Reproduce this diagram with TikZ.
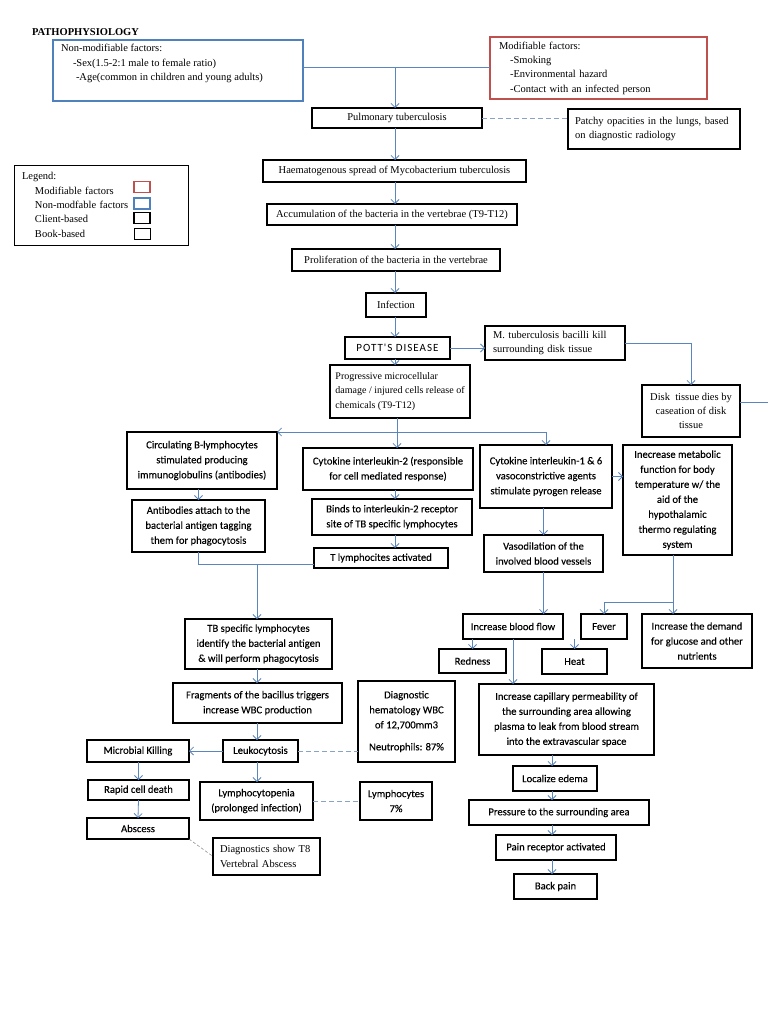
\documentclass[tikz,border=0pt]{standalone}
\usepackage{fontspec}
\setmainfont{Liberation Serif}
\newfontfamily\calfont[FakeBold=0.15]{Carlito}
\newfontfamily\pottsfont[LetterSpace=9]{Carlito}
\usetikzlibrary{arrows.meta}
\definecolor{arrblue}{HTML}{5B86BD}
\definecolor{boxblue}{HTML}{4F81BD}
\definecolor{boxred}{HTML}{C0504D}
\definecolor{dashcol}{HTML}{8AA3C2}
\begin{document}
\begin{tikzpicture}[x=1pt,y=-1pt,
 every node/.style={inner sep=1pt, outer sep=0pt},
 sbox/.style={draw=black, line width=1.3pt, font=\fontsize{10.5}{14.5}\selectfont, align=center},
 cbox/.style={draw=black, line width=1.3pt, font=\calfont\fontsize{10.6}{15}\selectfont, align=center},
 bbox/.style={draw=boxblue, line width=1.1pt, font=\fontsize{10.5}{14.5}\selectfont},
 rbox/.style={draw=boxred, line width=1.1pt, font=\fontsize{10.5}{14.3}\selectfont},
 arr/.style={draw=arrblue, line width=0.8pt, -{Straight Barb[length=4pt,width=8pt]}},
 lin/.style={draw=arrblue, line width=0.8pt},
 dsh/.style={draw=dashcol, line width=0.8pt, dash pattern=on 5pt off 3pt},
]
\useasboundingbox[fill=white] (0,0) rectangle (768,1024);

% title and legend
\node[anchor=west, inner sep=0pt, font=\bfseries\fontsize{10.5}{12}\selectfont] (title) at (32,32) {PATHOPHYSIOLOGY};
\node[draw=black, line width=0.9pt, minimum width=174pt, minimum height=80pt, text width=158pt, inner xsep=8pt, align=left, font=\fontsize{10.5}{14.3}\selectfont] (legend) at (101,205) {Legend:\\\hspace*{13pt}Modifiable factors\\\hspace*{13pt}Non-modfable factors\\\hspace*{13pt}Client-based\\\hspace*{13pt}Book-based};
\node[draw=boxred, line width=1.2pt, minimum width=16pt, minimum height=11pt] (lgmod) at (142,187) {};
\node[draw=boxblue, line width=1.2pt, minimum width=16pt, minimum height=11pt] (lgnon) at (142,203.5) {};
\node[draw=black, line width=1.5pt, minimum width=16pt, minimum height=11pt] (lgcli) at (142,218) {};
\node[draw=black, line width=0.6pt, minimum width=16pt, minimum height=11pt] (lgbook) at (142,234) {};

% factors
\node[bbox, minimum width=250pt, minimum height=61pt, inner sep=0pt] (nonmod) at (178,70.5) {\parbox[c][52pt][t]{234pt}{Non-modifiable factors:\\\hspace*{12pt}-Sex(1.5-2:1 male to female ratio)\\\hspace*{15pt}-Age(common in children and young adults)}};
\node[rbox, minimum width=217pt, minimum height=62pt, text width=199pt, inner xsep=9pt, align=left] (mod) at (598.5,68) {Modifiable factors:\\\hspace*{11pt}-Smoking\\\hspace*{11pt}-Environmental hazard\\\hspace*{11pt}-Contact with an infected person};

% main chain
\node[sbox, minimum width=170pt, minimum height=20pt] (pulm) at (397,118) {Pulmonary tuberculosis};
\node[sbox, minimum width=172pt, minimum height=40pt, text width=158pt, inner xsep=7pt, align=left] (patchy) at (654,129) {Patchy opacities in the lungs, based\\on diagnostic radiology};
\node[sbox, minimum width=263pt, minimum height=22pt] (haem) at (394.5,171) {Haematogenous spread of Mycobacterium tuberculosis};
\node[sbox, minimum width=250pt, minimum height=21pt] (accum) at (392,214.5) {Accumulation of the bacteria in the vertebrae (T9-T12)};
\node[sbox, minimum width=208pt, minimum height=22pt] (prolif) at (396,260) {Proliferation of the bacteria in the vertebrae};
\node[sbox, minimum width=60pt, minimum height=24pt] (infect) at (396,305) {Infection};
\node[sbox, minimum width=105pt, minimum height=22pt, font=\pottsfont\fontsize{11}{12}\selectfont] (potts) at (397.5,348) {POTT'S DISEASE};
\node[sbox, minimum width=140pt, minimum height=34pt, text width=124pt, inner xsep=8pt, align=left] (mtub) at (555,343) {M. tuberculosis bacilli kill\\surrounding disk tissue};
\node[sbox, minimum width=98pt, minimum height=52pt, font=\fontsize{10.5}{14}\selectfont] (disk) at (691,411) {Disk\ \ tissue dies by\\caseation of disk\\tissue};
\node[sbox, minimum width=140pt, minimum height=53pt, align=left, font=\fontsize{10}{14.5}\selectfont] (prog) at (400,391.5) {Progressive microcellular\\damage / injured cells release of\\chemicals (T9-T12)};

% immune branch
\node[cbox, minimum width=150pt, minimum height=57pt] (blymph) at (202,460.5) {Circulating B-lymphocytes\\stimulated producing\\immunoglobulins (antibodies)};
\node[cbox, minimum width=170pt, minimum height=42pt] (il2) at (388,469) {Cytokine interleukin-2 (responsible\\for cell mediated response)};
\node[cbox, minimum width=132pt, minimum height=63pt] (il16) at (546,476.5) {Cytokine interleukin-1 \& 6\\vasoconstrictive agents\\stimulate pyrogen release};
\node[cbox, minimum width=109pt, minimum height=110pt] (metab) at (677.5,500) {Inecrease metabolic\\function for body\\temperature w/ the\\aid of the\\hypothalamic\\thermo regulating\\system};
\node[cbox, minimum width=133pt, minimum height=52pt] (antib) at (198.5,526) {Antibodies attach to the\\bacterial antigen tagging\\them for phagocytosis};
\node[cbox, minimum width=160pt, minimum height=36pt] (binds) at (392,517) {Binds to interleukin-2 receptor\\site of TB specific lymphocytes};
\node[cbox, minimum width=134pt, minimum height=20pt] (tlymph) at (381,558) {T lymphocites activated};
\node[cbox, minimum width=119pt, minimum height=37pt] (vaso) at (543.5,553.5) {Vasodilation of the\\involved blood vessels};
\node[cbox, minimum width=147pt, minimum height=50pt] (tb) at (258.5,644) {TB specific lymphocytes\\identify the bacterial antigen\\\& will perform phagocytosis};
\node[cbox, minimum width=169pt, minimum height=40pt] (frag) at (257.5,703) {Fragments of the bacillus triggers\\increase WBC production};
\node[cbox, minimum width=97pt, minimum height=81pt] (hemat) at (406.5,721.5) {Diagnostic\\hematology WBC\\of 12,700mm3\\[7pt]Neutrophils: 87\%};
\node[cbox, minimum width=100pt, minimum height=25pt] (blood) at (513,626.5) {Increase blood flow};
\node[cbox, minimum width=46pt, minimum height=25pt] (fever) at (604,626.5) {Fever};
\node[cbox, minimum width=110pt, minimum height=54pt] (demand) at (697,641) {Increase the demand\\for glucose and other\\nutrients};
\node[cbox, minimum width=67pt, minimum height=24pt] (redness) at (472.5,661) {Redness};
\node[cbox, minimum width=65pt, minimum height=25pt] (heat) at (574.5,661.5) {Heat};
\node[cbox, minimum width=175pt, minimum height=71pt] (capill) at (566.5,719.5) {Increase capillary permeability of\\the surrounding area allowing\\plasma to leak from blood stream\\into the extravascular space};
\node[cbox, minimum width=75pt, minimum height=22pt] (leuko) at (260.5,751) {Leukocytosis};
\node[cbox, minimum width=102pt, minimum height=22pt] (microb) at (138,751) {Microbial Killing};
\node[cbox, minimum width=101pt, minimum height=20pt] (rapid) at (138.5,790) {Rapid cell death};
\node[cbox, minimum width=102pt, minimum height=21pt] (abscess) at (138,828.5) {Abscess};
\node[cbox, minimum width=113pt, minimum height=38pt] (lympho) at (256.5,801) {Lymphocytopenia\\(prolonged infection)};
\node[cbox, minimum width=72pt, minimum height=38pt] (lymph7) at (396,801) {Lymphocytes\\7\%};
\node[sbox, minimum width=107pt, minimum height=37pt, text width=93pt, inner xsep=7pt, align=left] (diagt8) at (266.5,856.5) {Diagnostics show T8\\Vertebral Abscess};
\node[cbox, minimum width=84pt, minimum height=25pt] (edema) at (555,778.5) {Localize edema};
\node[cbox, minimum width=180pt, minimum height=25pt] (pressure) at (559,812.5) {Pressure to the surrounding area};
\node[cbox, minimum width=120pt, minimum height=25pt] (pain) at (556,847.5) {Pain receptor activated};
\node[cbox, minimum width=83pt, minimum height=25pt] (back) at (555.5,886.5) {Back pain};

% helper coordinates
\coordinate (col) at (395,0);
\coordinate (j1) at (395,67);
\coordinate (jB) at (397,432);
\coordinate (jT) at (257,564);
\coordinate (jF) at (673,602);
\coordinate (offr) at (768,402);
\coordinate (rcol) at (552,0);

% connectors
\draw[lin] (nonmod.east|-j1) -- (j1);
\draw[lin] (mod.west|-j1) -- (j1);
\draw[arr] (j1) -- (j1|-pulm.north);
\draw[dsh] (pulm.east) -- (patchy.west|-pulm.east);
\draw[arr] (pulm.south-|col) -- (haem.north-|col);
\draw[arr] (haem.south-|col) -- (accum.north-|col);
\draw[arr] (accum.south-|col) -- (prolif.north-|col);
\draw[arr] (prolif.south-|col) -- (infect.north-|col);
\draw[arr] (infect.south-|col) -- (potts.north-|col);
\draw[arr] (potts.east) -- (mtub.west|-potts.east);
\draw[arr] (mtub.east) -| (disk.north);
\draw[lin] (disk.east|-offr) -- (offr);
\draw[arr] (potts.south-|col) -- (prog.north-|col);
\draw[lin] (prog.south-|jB) -- (jB);
\draw[arr] (jB) -- (blymph.north east);
\draw[arr] (jB) -| (il16.north);
\draw[arr] (jB) -- (jB|-il2.north);
\draw[arr] (il16.east) -- (metab.west|-il16.east);
\draw[arr] (antib.north|-blymph.south) -- (antib.north);
\draw[arr] (il2.south-|col) -- (binds.north-|col);
\draw[arr] (binds.south-|col) -- (tlymph.north-|col);
\draw[lin] (antib.south) |- (tlymph.west|-jT);
\draw[arr] (jT) -- (jT|-tb.north);
\draw[arr] (tb.south-|jT) -- (frag.north-|jT);
\draw[arr] (frag.south-|jT) -- (leuko.north-|jT);
\draw[arr] (leuko.west) -- (microb.east);
\draw[arr] (microb.south-|rapid.north) -- (rapid.north);
\draw[arr] (rapid.south) -- (abscess.north);
\draw[draw=gray, line width=0.5pt, dash pattern=on 3pt off 2pt] (abscess.south east) -- (diagt8.west);
\draw[dsh] (leuko.east) -- (hemat.west|-leuko.east);
\draw[arr] (leuko.south-|jT) -- (lympho.north-|jT);
\draw[dsh] (lympho.east) -- (lymph7.west);
\draw[arr] (il16.south-|vaso.north) -- (vaso.north);
\draw[arr] (vaso.south) -- (vaso.south|-blood.north);
\draw[arr] (blood.south-|redness.north) -- (redness.north);
\draw[arr] (blood.south-|heat.north) -- (heat.north);
\draw[arr] (blood.south) -- (blood.south|-capill.north);
\draw[lin] (metab.south-|jF) -- (jF);
\draw[arr] (jF) -| (fever.north);
\draw[arr] (jF) -- (jF|-demand.north);
\draw[arr] (capill.south-|rcol) -- (edema.north-|rcol);
\draw[arr] (edema.south-|rcol) -- (pressure.north-|rcol);
\draw[arr] (pressure.south-|rcol) -- (pain.north-|rcol);
\draw[arr] (pain.south-|rcol) -- (back.north-|rcol);
\end{tikzpicture}
\end{document}
